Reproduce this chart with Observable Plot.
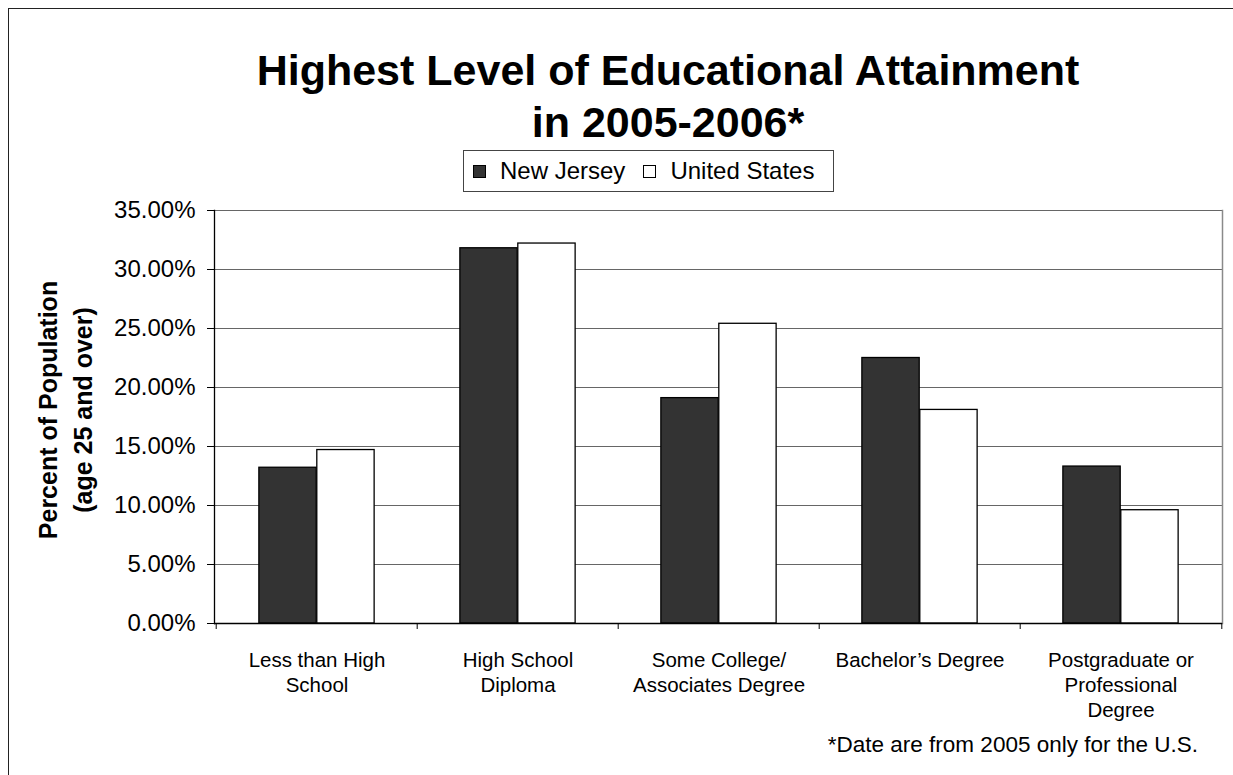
<!DOCTYPE html>
<html>
<head>
<meta charset="utf-8">
<script src="https://cdn.jsdelivr.net/npm/d3@7"></script>
<script src="https://cdn.jsdelivr.net/npm/@observablehq/plot@0.6"></script>
<style>
  html, body { margin: 0; padding: 0; background: #fff; width: 1233px; height: 775px; overflow: hidden; }
  body { position: relative; font-family: "Liberation Sans", Arial, Helvetica, sans-serif; color: #000; }
  #btop { position: absolute; left: 8px; top: 8px; width: 1240px; height: 0; border-top: 1.5px solid #222; }
  #bleft { position: absolute; left: 8px; top: 8px; width: 0; height: 800px; border-left: 1.5px solid #222; }
  #title { position: absolute; left: 0; width: 1336px; top: 44px; text-align: center; font-weight: bold; font-size: 43px; line-height: 52px; }
  #legend { position: absolute; left: 463px; top: 150px; width: 371px; height: 42px; border: 1px solid #444; box-sizing: border-box; display: flex; align-items: center; padding-left: 9px; font-size: 24px; }
  #legend .sw { width: 13px; height: 13px; border: 1px solid #000; box-sizing: border-box; margin-right: 14px; }
  #legend .item { display: flex; align-items: center; margin-right: 18px; }
  #ylabel { position: absolute; left: -134px; top: 375px; width: 400px; height: 70px; line-height: 35px; text-align: center; font-weight: bold; font-size: 25px; transform: rotate(-90deg); transform-origin: 50% 50%; }
  #chart { position: absolute; left: 0; top: 195px; }
  #caption { position: absolute; right: 35px; top: 732px; font-size: 22.5px; line-height: 26px; }
</style>
</head>
<body>
<div id="btop"></div>
<div id="bleft"></div>
<div id="title">Highest Level of Educational Attainment<br>in 2005-2006*</div>
<div id="legend"></div>
<div id="ylabel">Percent of Population<br>(age 25 and over)</div>
<div id="chart"></div>
<div id="caption">*Date are from 2005 only for the U.S.</div>
<script>
const categories = ["Less than High School", "High School Diploma", "Some College/Associates Degree", "Bachelor’s Degree", "Postgraduate or Professional Degree"];
const tickLabels = ["Less than High\nSchool", "High School\nDiploma", "Some College/\nAssociates Degree", "Bachelor’s Degree", "Postgraduate or\nProfessional\nDegree"];
const series = ["New Jersey", "United States"];
const newJersey = [13.2, 31.8, 19.1, 22.5, 13.3];
const unitedStates = [14.7, 32.2, 25.4, 18.1, 9.6];
const yTicks = [0, 5, 10, 15, 20, 25, 30, 35];
const colors = ["#333333", "#ffffff"];

const rows = [];
categories.forEach((c, i) => {
  rows.push({category: c, series: series[0], value: newJersey[i]});
  rows.push({category: c, series: series[1], value: unitedStates[i]});
});

// legend
const legend = document.getElementById("legend");
series.forEach((s, i) => {
  const item = document.createElement("div");
  item.className = "item";
  const sw = document.createElement("div");
  sw.className = "sw";
  sw.style.background = colors[i];
  const t = document.createElement("span");
  t.textContent = s;
  item.appendChild(sw);
  item.appendChild(t);
  legend.appendChild(item);
});

const W = 1233, H = 580, mL = 214, mR = 11, mT = 15, mB = 152;
const bw = (W - mL - mR) / categories.length;
const gapWidth = 1.48;
const barW = bw / (2 + gapWidth);
const outer = gapWidth * barW / 2;
const font = '"Liberation Sans", Arial, Helvetica, sans-serif';

const chart = Plot.plot({
  width: W, height: H,
  marginLeft: mL, marginRight: mR, marginTop: mT, marginBottom: mB,
  style: {fontFamily: font, background: "transparent", overflow: "visible", color: "#000"},
  x: {domain: categories, padding: 0, axis: null},
  y: {domain: [0, 35], axis: null},
  color: {domain: series, range: colors},
  marks: [
    Plot.ruleY(yTicks.filter(d => d > 0), {stroke: "#666", strokeWidth: 1.2}),
    Plot.frame({anchor: "right", stroke: "#8a8a8a", strokeWidth: 1.5}),
    Plot.barY(rows.filter(d => d.series === series[0]), {x: "category", y: "value", fill: "series", stroke: "#000", strokeWidth: 1.3, insetLeft: outer, insetRight: outer + barW}),
    Plot.barY(rows.filter(d => d.series === series[1]), {x: "category", y: "value", fill: "series", stroke: "#000", strokeWidth: 1.3, insetLeft: outer + barW, insetRight: outer}),
    Plot.frame({anchor: "left", stroke: "#000", strokeWidth: 1.3}),
    Plot.ruleY([0], {stroke: "#000", strokeWidth: 1.3}),
    Plot.axisY(yTicks, {tickSize: 7, tickPadding: 12, tickFormat: d => d.toFixed(2) + "%", fontSize: 24, label: null}),
    Plot.axisX({tickSize: 0, tickPadding: 26, tickFormat: d => tickLabels[categories.indexOf(d)], fontSize: 20.5, lineHeight: 1.22, label: null}),
    Plot.axisX({tickSize: 6, tickFormat: () => "", dx: -bw / 2, label: null}),
    Plot.axisX([categories[categories.length - 1]], {tickSize: 6, tickFormat: () => "", dx: bw / 2, label: null})
  ]
});
document.getElementById("chart").appendChild(chart);
</script>
</body>
</html>
